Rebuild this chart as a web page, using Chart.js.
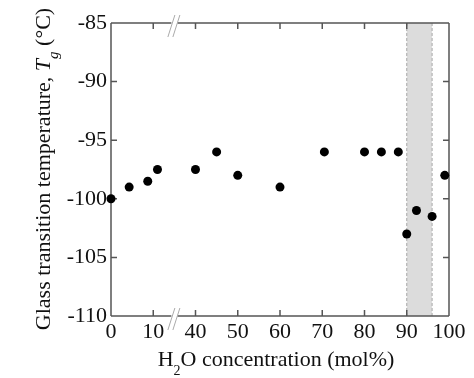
<!DOCTYPE html>
<html>
<head>
<meta charset="utf-8">
<script src="https://cdn.jsdelivr.net/npm/chart.js@4"></script>
<style>
  html, body { margin: 0; padding: 0; background: #fff; }
  #wrap { width: 474px; height: 378px; }
</style>
</head>
<body>
<div id="wrap"><canvas id="tg-chart" width="474" height="378"></canvas></div>
<script>
// data
const xTickLabels = [0, 10, 40, 50, 60, 70, 80, 90, 100];
const h2oConc = [0, 4.3, 8.7, 11, 40, 45, 50, 60, 70.5, 80, 84, 88, 90, 92.3, 96, 99];
const tgValues = [-100, -99, -98.5, -97.5, -97.5, -96, -98, -99, -96, -96, -96, -96, -103, -101, -101.5, -98];
const bandRange = [90, 96];
const yRange = [-110, -85];

const serif = '"Liberation Serif", "DejaVu Serif", serif';

// broken x axis: 0-10 then 40-100, each 10 mol% one step
function toAxis(x) {
    return x <= 20 ? x / 10 : (x - 20) / 10;
}
const breakAt = 1.5;

function drawRich(ctx, parts, cx, cy) {
    let total = 0;
    parts.forEach(function(p) {
        ctx.font = p.font;
        p.w = ctx.measureText(p.text).width;
        total += p.w;
    });
    let px = cx - total / 2;
    parts.forEach(function(p) {
        ctx.font = p.font;
        ctx.fillText(p.text, px, cy + (p.dy || 0));
        px += p.w;
    });
}

const decor = {
    id: 'decor',
    beforeDatasetsDraw(chart) {
        const ctx = chart.ctx;
        const a = chart.chartArea;
        const x = chart.scales.x, y = chart.scales.y;
        ctx.save();

        // shaded band
        const b0 = x.getPixelForValue(toAxis(bandRange[0]));
        const b1 = x.getPixelForValue(toAxis(bandRange[1]));
        ctx.fillStyle = '#dcdcdc';
        ctx.fillRect(b0, a.top, b1 - b0, a.bottom - a.top);
        ctx.strokeStyle = '#a8a8a8';
        ctx.lineWidth = 1;
        ctx.setLineDash([3, 2]);
        ctx.beginPath();
        ctx.moveTo(b0, a.top); ctx.lineTo(b0, a.bottom);
        ctx.moveTo(b1, a.top); ctx.lineTo(b1, a.bottom);
        ctx.stroke();
        ctx.setLineDash([]);

        // frame with gaps at the break
        const bx = x.getPixelForValue(breakAt);
        ctx.strokeStyle = '#555';
        ctx.lineWidth = 1.5;
        ctx.beginPath();
        [a.top, a.bottom].forEach(function(yy) {
            ctx.moveTo(a.left, yy); ctx.lineTo(bx - 3, yy);
            ctx.moveTo(bx + 3, yy); ctx.lineTo(a.right, yy);
        });
        ctx.moveTo(a.left, a.top); ctx.lineTo(a.left, a.bottom);
        ctx.moveTo(a.right, a.top); ctx.lineTo(a.right, a.bottom);

        // inward ticks
        for (let i = 1; i < xTickLabels.length - 1; i++) {
            const px = x.getPixelForValue(i);
            ctx.moveTo(px, a.bottom); ctx.lineTo(px, a.bottom - 6);
            ctx.moveTo(px, a.top); ctx.lineTo(px, a.top + 6);
        }
        for (let v = yRange[0] + 5; v < yRange[1]; v += 5) {
            const py = y.getPixelForValue(v);
            ctx.moveTo(a.left, py); ctx.lineTo(a.left + 6, py);
            ctx.moveTo(a.right, py); ctx.lineTo(a.right - 6, py);
        }
        ctx.stroke();

        // break marks
        ctx.strokeStyle = '#aaa';
        ctx.lineWidth = 1;
        ctx.beginPath();
        [a.top, a.bottom].forEach(function(yy) {
            [-2.5, 2.5].forEach(function(off) {
                ctx.moveTo(bx + off - 4, yy + 14);
                ctx.lineTo(bx + off + 3, yy - 8);
            });
        });
        ctx.stroke();
        ctx.restore();
    },
    afterDraw(chart) {
        const ctx = chart.ctx;
        ctx.save();
        ctx.fillStyle = '#111';
        ctx.textBaseline = 'alphabetic';
        ctx.textAlign = 'left';
        drawRich(ctx, [
            { text: 'H', font: '22px ' + serif },
            { text: '2', font: '14px ' + serif, dy: 9 },
            { text: 'O concentration (mol%)', font: '22px ' + serif }
        ], 276, 366);

        ctx.translate(50, 169);
        ctx.rotate(-Math.PI / 2);
        drawRich(ctx, [
            { text: 'Glass transition temperature, ', font: '22px ' + serif },
            { text: 'T', font: 'italic 22px ' + serif },
            { text: 'g', font: 'italic 15px ' + serif, dy: 8 },
            { text: ' (°C)', font: '22px ' + serif }
        ], 0, 0);
        ctx.restore();
    }
};

new Chart(document.getElementById('tg-chart').getContext('2d'), {
    type: 'scatter',
    data: {
        datasets: [{
            data: h2oConc.map(function(c, i) { return { x: toAxis(c), y: tgValues[i] }; }),
            backgroundColor: '#000',
            borderWidth: 0,
            pointRadius: 4.5,
            pointHoverRadius: 4.5,
            clip: false
        }]
    },
    options: {
        responsive: false,
        devicePixelRatio: 1,
        animation: false,
        layout: { padding: { top: 23, right: 25, left: 0, bottom: 0 } },
        plugins: {
            legend: { display: false },
            tooltip: { enabled: false }
        },
        scales: {
            x: {
                type: 'linear',
                min: 0,
                max: xTickLabels.length - 1,
                grid: { display: false, drawTicks: false },
                border: { display: false },
                afterFit: function(s) { s.height = 62; },
                ticks: {
                    stepSize: 1,
                    autoSkip: false,
                    maxRotation: 0,
                    padding: 3,
                    color: '#111',
                    font: { family: serif, size: 22 },
                    callback: function(v) { return String(xTickLabels[v]); }
                }
            },
            y: {
                min: yRange[0],
                max: yRange[1],
                grid: { display: false, drawTicks: false },
                border: { display: false },
                afterFit: function(s) { s.width = 111; },
                ticks: {
                    stepSize: 5,
                    padding: 4,
                    color: '#111',
                    font: { family: serif, size: 22 },
                    callback: function(v) { return String(v); }
                }
            }
        }
    },
    plugins: [decor]
});
</script>
</body>
</html>
